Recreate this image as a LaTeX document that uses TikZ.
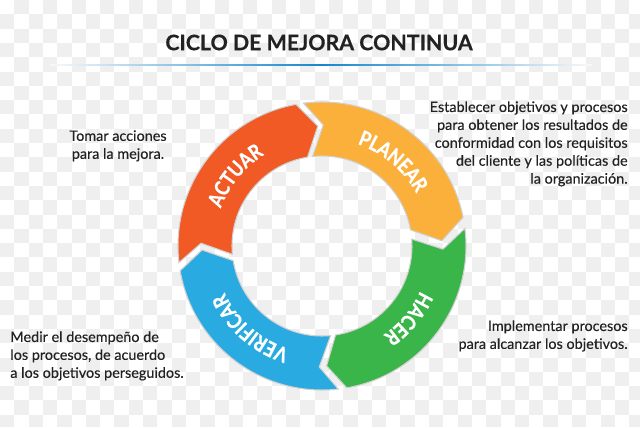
\documentclass[tikz,border=0pt]{standalone}
\usepackage{fontspec}
\setmainfont{Lato}[BoldFont={Lato Bold},BoldFeatures={FakeBold=0.4}]
\newfontfamily\bodyfont[FakeBold=0.25]{Lato}
\newfontfamily\ringfont[FakeStretch=0.84,FakeBold=0.9]{Lato Bold}
\usetikzlibrary{decorations.text}

\definecolor{planear}{HTML}{FBB03B}
\definecolor{hacer}{HTML}{39B54A}
\definecolor{verificar}{HTML}{29ABE2}
\definecolor{actuar}{HTML}{F15A24}
\definecolor{cuadro}{HTML}{EFEFEF}
\definecolor{regla}{HTML}{1587CE}
\definecolor{tinta}{HTML}{222222}

\begin{document}
\begin{tikzpicture}[x=0.02cm,y=0.02cm,
    body text/.style={font=\bodyfont\fontsize{8.2}{10.2}\selectfont,text=tinta,inner sep=0pt},
    ring part/.style={draw=black!18,line width=0.6pt,line join=miter},
    ring label/.style={decorate,decoration={text along path,text align=center}}]

  \useasboundingbox (0,0) rectangle (640,427);

  % checkerboard
  \fill[white] (0,0) rectangle (640,427);
  \foreach \i in {0,...,44}
    \foreach \j in {0,...,29} {
      \pgfmathtruncatemacro{\odd}{mod(\i+\j,2)}
      \ifnum\odd=1
        \fill[cuadro] ({14.3*\i},{427-14.3*\j}) rectangle ({14.3*\i+14.3},{max(0,427-14.3*\j-14.3)});
      \fi
    }

  \node[font=\fontsize{12.15}{15}\bfseries\selectfont,text=tinta,inner sep=0pt] (title) at (319,384.5) {CICLO DE MEJORA CONTINUA};
  \shade[left color=cuadro!40!white,right color=regla] (50,361.3) rectangle (321,362.9);
  \shade[left color=regla,right color=cuadro!40!white] (321,361.3) rectangle (592,362.9);

  \begin{scope}[shift={(322,181)}]
    \foreach \col/\a/\b/\t/\c/\d/\n in {
        planear/97.4/11.5/2.5/10.3/96/89.4,
        hacer/7/-80.1/-87.8/-81.3/4.4/-1.5,
        verificar/-83.5/-170.1/-178.1/-170.6/-84.5/-91.3,
        actuar/-173.4/-259.6/-268/-260.7/-174.7/-181.3}
      \filldraw[ring part,fill=\col] (\a:144) arc[start angle=\a,end angle=\b,radius=144]
        -- (\t:120) -- (\c:90) arc[start angle=\c,end angle=\d,radius=90]
        -- (\n:121) -- cycle;

    \path[ring label,decoration={text={|\ringfont\fontsize{11.8}{13}\selectfont\color{white}|PLANEAR}}]
      (100:108) arc[start angle=100,end angle=0,radius=108];
    \path[ring label,decoration={text={|\ringfont\fontsize{11.8}{13}\selectfont\color{white}|HACER}}]
      (10:108) arc[start angle=10,end angle=-90,radius=108];
    \path[ring label,decoration={text={|\ringfont\fontsize{11.8}{13}\selectfont\color{white}|VERIFICAR}}]
      (-81:108) arc[start angle=-81,end angle=-181,radius=108];
    \path[ring label,decoration={text={|\ringfont\fontsize{11.8}{13}\selectfont\color{white}|ACTUAR}}]
      (191:108) arc[start angle=191,end angle=91,radius=108];
  \end{scope}

  \node[body text,align=right,anchor=north east] (planeartext) at (628,326) {Establecer objetivos y procesos\\para obtener los resultados de\\conformidad con los requisitos\\del cliente y las pol\'iticas de\\la organizaci\'on.};
  \node[body text,align=center,anchor=north] (actuartext) at (118,297) {Tomar acciones\\para la mejora.};
  \node[body text,align=right,anchor=north east] (hacertext) at (628,107) {Implementar procesos\\para alcanzar los objetivos.};
  \node[body text,align=left,anchor=north west] (verificartext) at (10,96) {Medir el desempe\~no de\\los procesos, de acuerdo\\a los objetivos perseguidos.};

\end{tikzpicture}
\end{document}
